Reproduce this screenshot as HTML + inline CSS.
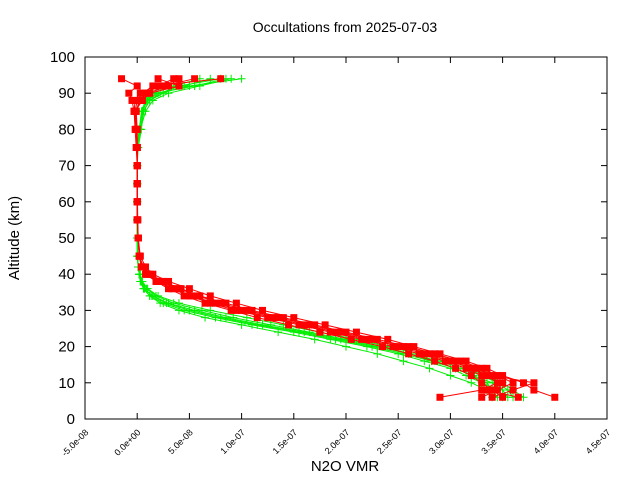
<!DOCTYPE html>
<html><head><meta charset="utf-8"><style>
html,body{margin:0;padding:0;background:#fff;}
svg{display:block;font-family:"Liberation Sans",sans-serif;}
</style></head><body>
<svg id="chart" width="640" height="480" viewBox="0 0 640 480" xmlns="http://www.w3.org/2000/svg">
<rect x="0" y="0" width="640" height="480" fill="#fff"/>
<text x="345" y="32" text-anchor="middle" font-size="14">Occultations from 2025-07-03</text>
<text transform="translate(19,238) rotate(-90)" text-anchor="middle" font-size="15">Altitude (km)</text>
<text x="345" y="471" text-anchor="middle" font-size="15">N2O VMR</text>
<g id="axes"></g>
<g id="series"></g>
<rect x="85" y="57" width="522" height="362" fill="none" stroke="#000" stroke-width="1"/>
</svg>
<script>
// values in units of 1e-9 VMR
const altitudes=[6,8,10,12,14,16,18,20,22,24,26,28,30,32,34,36,38,40,42,45,50,55,60,65,70,75,80,85,88,90,92,94];
const red1=[400,380,370,350,335,315,290,265,240,210,180,150,120,95,70,50,30,15,8,3,1,0.5,0,0,0,0,-1,-2,0,5,15,80];
const red2=[290,330,345,335,320,300,275,250,225,195,165,135,105,80,58,40,22,10,5,2,1,0,0,0,0,-1,-2,-3,-5,-8,0,-15];
const red3=[350,340,330,320,305,285,260,235,205,175,145,115,90,65,45,30,18,8,4,2,1,0.5,0.3,0,0,0,-1,-1,2,10,30,40];
const red4=[330,345,360,345,330,310,285,260,230,200,170,140,110,85,60,42,25,12,6,2,1,0,0,0,0,0,0,-2,5,12,40,20];
const red5=[340,360,380,340,325,305,280,255,220,190,160,130,100,75,52,35,20,9,4,2,1,0,0,0,0,0,-1,-3,-2,3,25,55];
const red6=[365,335,350,330,315,295,270,245,215,185,155,125,95,70,50,33,19,9,5,2,1,0,0,0,0,0,0,-1,3,8,20,35];
const green1=[360,355,345,330,310,290,260,230,195,160,120,85,55,30,15,7,4,2,1,0.5,0.2,0,0,0,0,0,2,5,10,20,50,100];
const green2=[340,335,320,300,280,255,230,200,170,135,100,65,40,22,12,6,3,2,1,0.5,0,0,0,0,0,0,3,8,15,30,60,90];
const green3=[370,360,350,335,315,295,270,240,210,175,140,105,70,40,20,10,5,3,1,0.5,0,0,0,0,0,1,4,6,12,25,45,70];
const green4=[350,345,330,315,300,275,250,220,185,150,110,75,45,25,12,6,3,2,1,0,0,0,0,0,0,0,2,4,8,15,35,60];
const green5=[355,350,340,322,305,282,255,225,190,155,115,80,50,28,14,7,4,2,1,0.5,0,0,0,0,0,0,3,6,12,22,40,80];
const green6=[345,340,335,320,305,285,262,235,200,165,128,92,62,35,18,9,4,2,1,0,0,0,0,0,0,0,2,5,9,18,55,85];
const xTicks=[-50,0,50,100,150,200,250,300,350,400,450];
const xTickLabels=["-5.0e-08","0.0e+00","5.0e-08","1.0e-07","1.5e-07","2.0e-07","2.5e-07","3.0e-07","3.5e-07","4.0e-07","4.5e-07"];
const yTicks=[0,10,20,30,40,50,60,70,80,90,100];

const NS="http://www.w3.org/2000/svg";
const L=85,R=607,T=57,B=419;
function xs(v){return L+(v+50)/500*(R-L);}
function ys(v){return B-v/100*(B-T);}
function mk(tag,attrs,parent){const e=document.createElementNS(NS,tag);for(const k in attrs)e.setAttribute(k,attrs[k]);parent.appendChild(e);return e;}
const axes=document.getElementById('axes');
yTicks.forEach(t=>{
  const y=ys(t);
  const l1=mk('line',{x1:L,x2:L+6,y1:y,y2:y,stroke:'#000'},axes);
  
  
  const l2=mk('line',{x1:R,x2:R-6,y1:y,y2:y,stroke:'#000'},axes);
  
  
  const tx=mk('text',{x:L-10,y:y+5,'text-anchor':'end','font-size':'15'},axes);
  tx.textContent=t;
  
  
});
xTicks.forEach((t,i)=>{
  const x=xs(t);
  const l1=mk('line',{x1:x,x2:x,y1:B,y2:B-6,stroke:'#000'},axes);
  
  
  const l2=mk('line',{x1:x,x2:x,y1:T,y2:T+6,stroke:'#000'},axes);
  
  
  const tx=mk('text',{transform:`translate(${x+4},${B+14}) rotate(-45)`,'text-anchor':'end','font-size':'9'},axes);
  tx.textContent=xTickLabels[i];
  
  
});
const series=document.getElementById('series');
function drawProfile(vals,color,marker,name){
  const g=mk('g',{},series);
  
  
  const pts=vals.map((v,i)=>xs(v).toFixed(1)+','+ys(altitudes[i]).toFixed(1)).join(' ');
  mk('polyline',{points:pts,fill:'none',stroke:color,'stroke-width':1},g);
  vals.forEach((v,i)=>{
    const x=xs(v),y=ys(altitudes[i]);
    if(marker==='sq'){
      const r=mk('rect',{x:x-3.5,y:y-3.5,width:7,height:7,fill:color},g);
      
      
    }else{
      const p=mk('path',{d:`M${x-4},${y}H${x+4}M${x},${y-4}V${y+4}`,stroke:color,'stroke-width':1},g);
      
      
    }
  });
}
[green1,green2,green3,green4,green5,green6].forEach((s,i)=>drawProfile(s,'#00ee00','plus','green-profile-'+(i+1)));
[red1,red2,red3,red4,red5,red6].forEach((s,i)=>drawProfile(s,'#ff0000','sq','red-profile-'+(i+1)));
</script>
</body></html>
